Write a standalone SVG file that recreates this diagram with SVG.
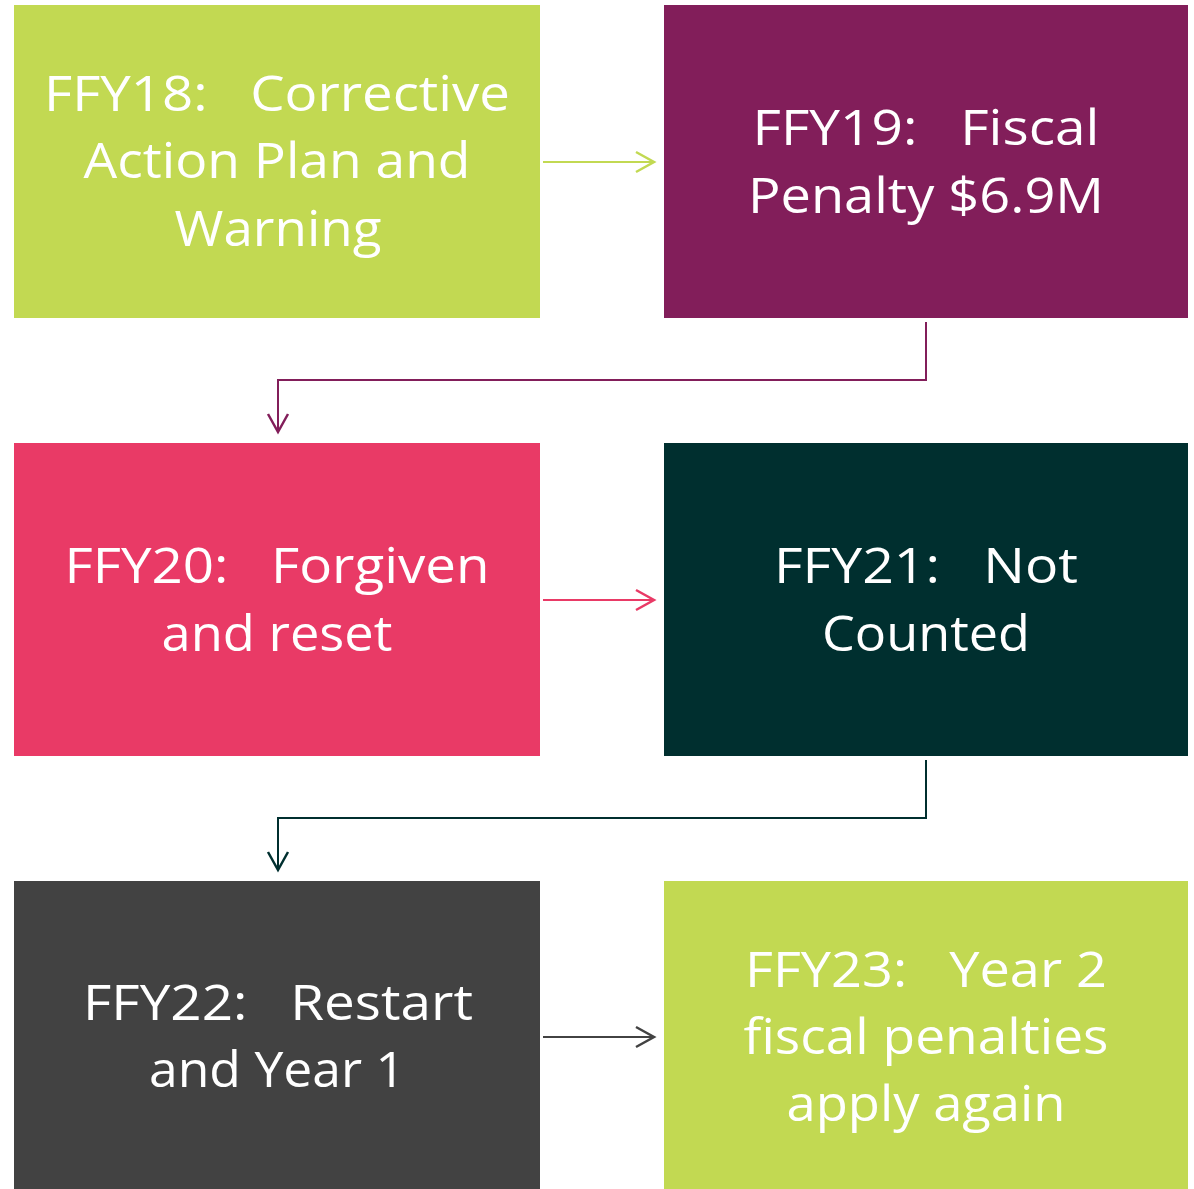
<svg xmlns="http://www.w3.org/2000/svg" width="1194" height="1189" viewBox="0 0 1194 1189">
<style>
.t{font-family:"Open Sans","Noto Sans","Liberation Sans",sans-serif;font-size:50px;fill:#FFFFFF;text-anchor:middle;white-space:pre}
.c{fill:none;stroke-width:2}
</style>
<defs>
<marker id="aL" markerWidth="22" markerHeight="24" refX="19" refY="12" orient="auto" markerUnits="userSpaceOnUse"><path d="M1,2 L19,12 L1,22" fill="none" stroke="#C2D952" stroke-width="2.5"/></marker>
<marker id="aP" markerWidth="22" markerHeight="24" refX="19" refY="12" orient="auto" markerUnits="userSpaceOnUse"><path d="M1,2 L19,12 L1,22" fill="none" stroke="#821E5A" stroke-width="2.5"/></marker>
<marker id="aR" markerWidth="22" markerHeight="24" refX="19" refY="12" orient="auto" markerUnits="userSpaceOnUse"><path d="M1,2 L19,12 L1,22" fill="none" stroke="#E93A66" stroke-width="2.5"/></marker>
<marker id="aT" markerWidth="22" markerHeight="24" refX="19" refY="12" orient="auto" markerUnits="userSpaceOnUse"><path d="M1,2 L19,12 L1,22" fill="none" stroke="#002F2F" stroke-width="2.5"/></marker>
<marker id="aG" markerWidth="22" markerHeight="24" refX="19" refY="12" orient="auto" markerUnits="userSpaceOnUse"><path d="M1,2 L19,12 L1,22" fill="none" stroke="#424242" stroke-width="2.5"/></marker>
</defs>
<rect width="1194" height="1189" fill="#FFFFFF"/>
<g id="connectors">
<path class="c" stroke="#C2D952" d="M543,162 H654" marker-end="url(#aL)"/>
<path class="c" stroke="#821E5A" d="M926,322 V380 H278 V432" marker-end="url(#aP)"/>
<path class="c" stroke="#E93A66" d="M543,600 H654" marker-end="url(#aR)"/>
<path class="c" stroke="#002F2F" d="M926,760 V818 H278 V870" marker-end="url(#aT)"/>
<path class="c" stroke="#424242" d="M543,1037 H654" marker-end="url(#aG)"/>
</g>
<g id="ffy18">
<rect x="14" y="5" width="526" height="313" fill="#C2D952"/>
<text class="t" x="277" y="111" textLength="466" lengthAdjust="spacingAndGlyphs">FFY18:   Corrective</text>
<text class="t" x="277" y="178" textLength="387" lengthAdjust="spacingAndGlyphs">Action Plan and</text>
<text class="t" x="278" y="246" textLength="207" lengthAdjust="spacingAndGlyphs">Warning</text>
</g>
<g id="ffy19">
<rect x="664" y="5" width="524" height="313" fill="#821E5A"/>
<text class="t" x="926" y="145" textLength="347" lengthAdjust="spacingAndGlyphs">FFY19:   Fiscal</text>
<text class="t" x="926" y="213" textLength="356" lengthAdjust="spacingAndGlyphs">Penalty $6.9M</text>
</g>
<g id="ffy20">
<rect x="14" y="443" width="526" height="313" fill="#E93A66"/>
<text class="t" x="277" y="583" textLength="425" lengthAdjust="spacingAndGlyphs">FFY20:   Forgiven</text>
<text class="t" x="277" y="651" textLength="231" lengthAdjust="spacingAndGlyphs">and reset</text>
</g>
<g id="ffy21">
<rect x="664" y="443" width="524" height="313" fill="#002F2F"/>
<text class="t" x="926" y="583" textLength="304" lengthAdjust="spacingAndGlyphs">FFY21:   Not</text>
<text class="t" x="926" y="651" textLength="208" lengthAdjust="spacingAndGlyphs">Counted</text>
</g>
<g id="ffy22">
<rect x="14" y="881" width="526" height="308" fill="#424242"/>
<text class="t" x="278" y="1020" textLength="390" lengthAdjust="spacingAndGlyphs">FFY22:   Restart</text>
<text class="t" x="277" y="1087" textLength="256" lengthAdjust="spacingAndGlyphs">and Year 1</text>
</g>
<g id="ffy23">
<rect x="664" y="881" width="524" height="308" fill="#C2D952"/>
<text class="t" x="926" y="987" textLength="362" lengthAdjust="spacingAndGlyphs">FFY23:   Year 2</text>
<text class="t" x="926" y="1054" textLength="365" lengthAdjust="spacingAndGlyphs">fiscal penalties</text>
<text class="t" x="926" y="1121" textLength="279" lengthAdjust="spacingAndGlyphs">apply again</text>
</g>
</svg>
